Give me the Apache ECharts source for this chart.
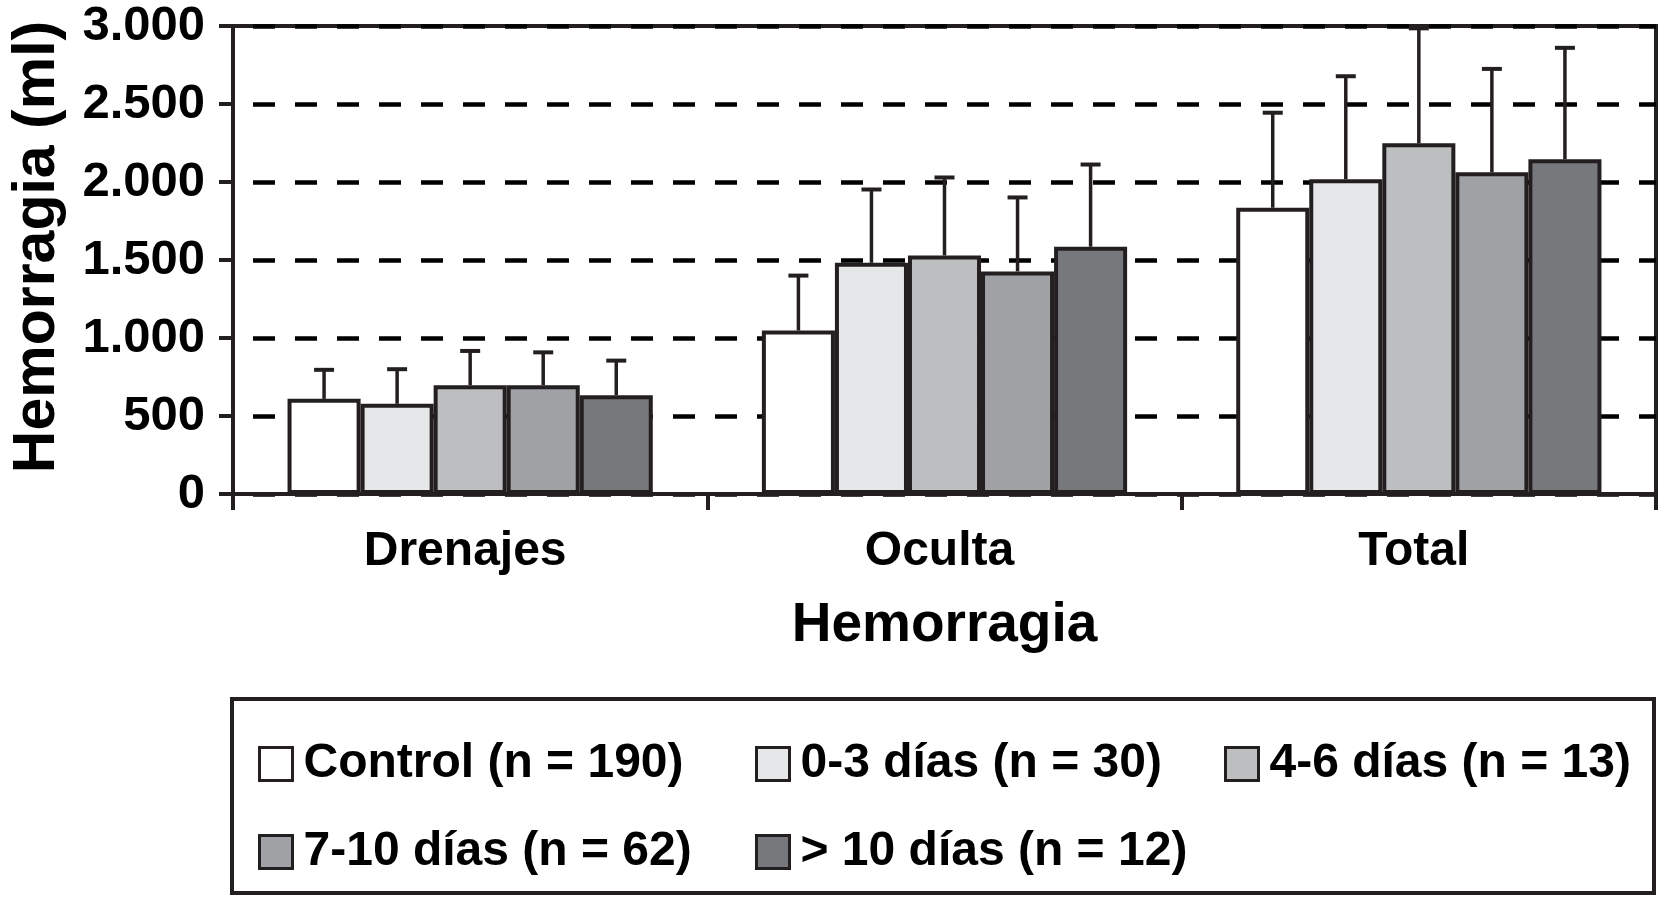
<!DOCTYPE html>
<html>
<head>
<meta charset="utf-8">
<script src="https://cdn.jsdelivr.net/npm/echarts@6/dist/echarts.min.js"></script>
<style>
html,body{margin:0;padding:0;background:#fff;}
#chart{width:1659px;height:898px;}
</style>
</head>
<body>
<div id="chart"></div>
<script>
// ---- data ----
const categories = ['Drenajes', 'Oculta', 'Total'];
const seriesNames = ['Control (n = 190)', '0-3 días (n = 30)', '4-6 días (n = 13)', '7-10 días (n = 62)', '> 10 días (n = 12)'];
const controlMean = [610, 1048, 1835];
const controlSD   = [186, 352, 609];
const d03Mean = [578, 1482, 2018];
const d03SD   = [222, 470, 660];
const d46Mean = [697, 1529, 2248];
const d46SD   = [220, 500, 737];
const d710Mean = [697, 1427, 2062];
const d710SD   = [211, 474, 663];
const d10Mean = [633, 1585, 2146];
const d10SD   = [222, 527, 714];
const yTickLabels = ['0', '500', '1.000', '1.500', '2.000', '2.500', '3.000'];
const xAxisTitle = 'Hemorragia';
const yAxisTitle = 'Hemorragia (ml)';

// ---- styling ----
const means = [controlMean, d03Mean, d46Mean, d710Mean, d10Mean];
const sds = [controlSD, d03SD, d46SD, d710SD, d10SD];
const fills = ['#ffffff', '#e6e7e8', '#bcbec0', '#a0a1a4', '#77787b'];
const ink = '#231f20';
const font = '"Liberation Sans", Arial, Helvetica, sans-serif';
const catGap = 0.23;
const nSeries = means.length;

const chart = echarts.init(document.getElementById('chart'), null, {renderer: 'canvas'});

const barSeries = means.map((m, i) => ({
  name: seriesNames[i],
  type: 'bar',
  data: m,
  barGap: '0%',
  barCategoryGap: (catGap * 100) + '%',
  itemStyle: {color: fills[i], borderColor: ink, borderWidth: 4},
  z: 3
}));

const errSeries = means.map((m, i) => ({
  type: 'custom',
  silent: true,
  z: 2,
  data: m.map((v, c) => [c, v, v + sds[i][c]]),
  renderItem: function (params, api) {
    const c = api.value(0);
    const base = api.coord([c, 0]);
    const catW = api.size([1, 0])[0];
    const groupW = catW * (1 - catGap);
    const barW = groupW / nSeries;
    const x = base[0] - groupW / 2 + barW * (i + 0.5);
    const yTop = api.coord([c, api.value(1)])[1];
    const yErr = api.coord([c, api.value(2)])[1];
    return {
      type: 'group',
      children: [
        {type: 'line', shape: {x1: x, y1: yTop, x2: x, y2: yErr}, style: {stroke: ink, lineWidth: 3.5}},
        {type: 'line', shape: {x1: x - 10, y1: yErr, x2: x + 10, y2: yErr}, style: {stroke: ink, lineWidth: 4}}
      ]
    };
  }
}));

const legendPos = [[258, 740], [755, 740], [1224, 740], [258, 828], [755, 828]];
const legends = seriesNames.map((n, i) => ({
  data: [n],
  left: legendPos[i][0],
  top: legendPos[i][1],
  padding: 0,
  itemGap: 0,
  itemWidth: 33,
  itemHeight: 33,
  icon: 'rect',
  selectedMode: false,
  itemStyle: {color: fills[i], borderColor: ink, borderWidth: 3},
  textStyle: {fontFamily: font, fontSize: 48, fontWeight: 'bold', color: '#000', padding: [0, 0, 0, 6], lineHeight: 35}
}));

chart.setOption({
  backgroundColor: '#fff',
  animation: false,
  textStyle: {fontFamily: font},
  grid: {left: 222, right: 3, top: 26, bottom: 404, show: true, borderColor: ink, borderWidth: 4, backgroundColor: 'transparent'},
  legend: legends,
  xAxis: {
    type: 'category',
    data: categories,
    name: xAxisTitle,
    nameLocation: 'middle',
    nameGap: 104,
    nameTextStyle: {fontFamily: font, fontSize: 55, fontWeight: 'bold', color: '#000', verticalAlign: 'top'},
    axisLine: {show: true, lineStyle: {color: ink, width: 4}},
    axisTick: {show: true, length: 16, lineStyle: {color: ink, width: 4}},
    axisLabel: {fontFamily: font, fontSize: 48, fontWeight: 'bold', color: '#000', margin: 34, padding: [0, 10, 0, 0]},
    splitLine: {show: false}
  },
  yAxis: {
    type: 'value',
    min: 0,
    max: 3000,
    interval: 500,
    name: yAxisTitle,
    nameLocation: 'middle',
    nameRotate: 90,
    nameGap: 166,
    nameTextStyle: {fontFamily: font, fontSize: 59, fontWeight: 'bold', color: '#000', padding: [0, 0, 0, 26]},
    axisLine: {show: true, lineStyle: {color: ink, width: 4}},
    axisTick: {show: true, length: 14, lineStyle: {color: ink, width: 4}},
    axisLabel: {
      fontFamily: font, fontSize: 49, fontWeight: 'bold', color: '#000', margin: 28,
      formatter: function (v) { return yTickLabels[Math.round(v / 500)]; }
    },
    splitLine: {show: true, lineStyle: {color: '#000', width: 4.5, type: [22, 20], dashOffset: -20}}
  },
  graphic: [{
    type: 'rect',
    shape: {x: 232, y: 699, width: 1422, height: 194},
    style: {fill: 'none', stroke: ink, lineWidth: 4},
    z: -1
  }],
  series: barSeries.concat(errSeries)
});
</script>
</body>
</html>
